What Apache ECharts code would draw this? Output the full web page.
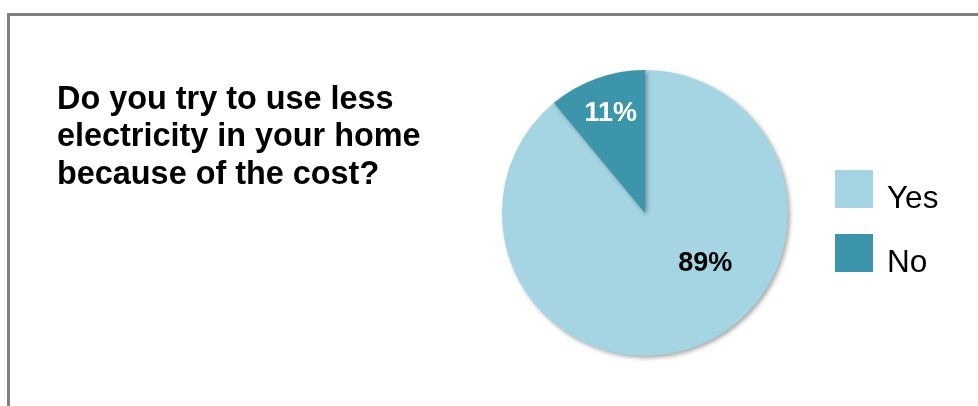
<!DOCTYPE html>
<html>
<head>
<meta charset="utf-8">
<script src="https://cdn.jsdelivr.net/npm/echarts@6/dist/echarts.min.js"></script>
<style>
html,body{margin:0;padding:0;background:#fff;}
#chart{width:978px;height:406px;}
</style>
</head>
<body>
<div id="chart"></div>
<script>
const categories = ["Yes", "No"];
const values = [89, 11];
const titleLines = ["Do you try to use less", "electricity in your home", "because of the cost?"];

const colors = ["#a5d5e3", "#3c95aa"];
const labelStyles = [
  {color: "#000", offset: [35, -20]},
  {color: "#fff", offset: [-9, -29]}
];

const chart = echarts.init(document.getElementById("chart"), null, {renderer: "canvas"});
chart.setOption({
  animation: false,
  backgroundColor: "#fff",
  graphic: [
    {type: "line", shape: {x1: 8.5, y1: 14.5, x2: 8.5, y2: 406}, style: {stroke: "#7f7f7f", lineWidth: 3}},
    {type: "line", shape: {x1: 7, y1: 14.5, x2: 978, y2: 14.5}, style: {stroke: "#7f7f7f", lineWidth: 3}}
  ],
  title: {
    text: titleLines.join("\n"),
    left: 52,
    top: 76,
    textStyle: {
      fontFamily: "Liberation Sans, Arial, sans-serif",
      fontWeight: "bold",
      fontSize: 32.4,
      lineHeight: 37.5,
      color: "#000"
    }
  },
  legend: {
    orient: "vertical",
    left: 830,
    top: 165,
    itemWidth: 38,
    itemHeight: 38,
    itemGap: 19,
    icon: "rect",
    data: categories,
    formatter: name => "{s|}{t|" + name + "}",
    textStyle: {
      fontFamily: "Liberation Sans, Arial, sans-serif",
      fontSize: 31.5,
      color: "#000",
      padding: [0, 0, 0, 9],
      rich: {
        s: {height: 52, width: 0},
        t: {
          fontFamily: "Liberation Sans, Arial, sans-serif",
          fontSize: 31.5,
          color: "#000",
          verticalAlign: "bottom"
        }
      }
    }
  },
  series: [{
    type: "pie",
    center: [645, 213],
    radius: 143,
    startAngle: 90,
    clockwise: true,
    silent: true,
    labelLine: {show: false},
    itemStyle: {
      shadowBlur: 4,
      shadowOffsetX: 2,
      shadowOffsetY: 2,
      shadowColor: "rgba(0,0,0,0.35)"
    },
    label: {
      show: true,
      position: "inside",
      fontFamily: "Liberation Sans, Arial, sans-serif",
      fontWeight: "bold",
      fontSize: 27,
      formatter: "{c}%"
    },
    data: categories.map((c, i) => ({
      name: c,
      value: values[i],
      itemStyle: {color: colors[i]},
      label: labelStyles[i]
    }))
  }]
});
</script>
</body>
</html>
